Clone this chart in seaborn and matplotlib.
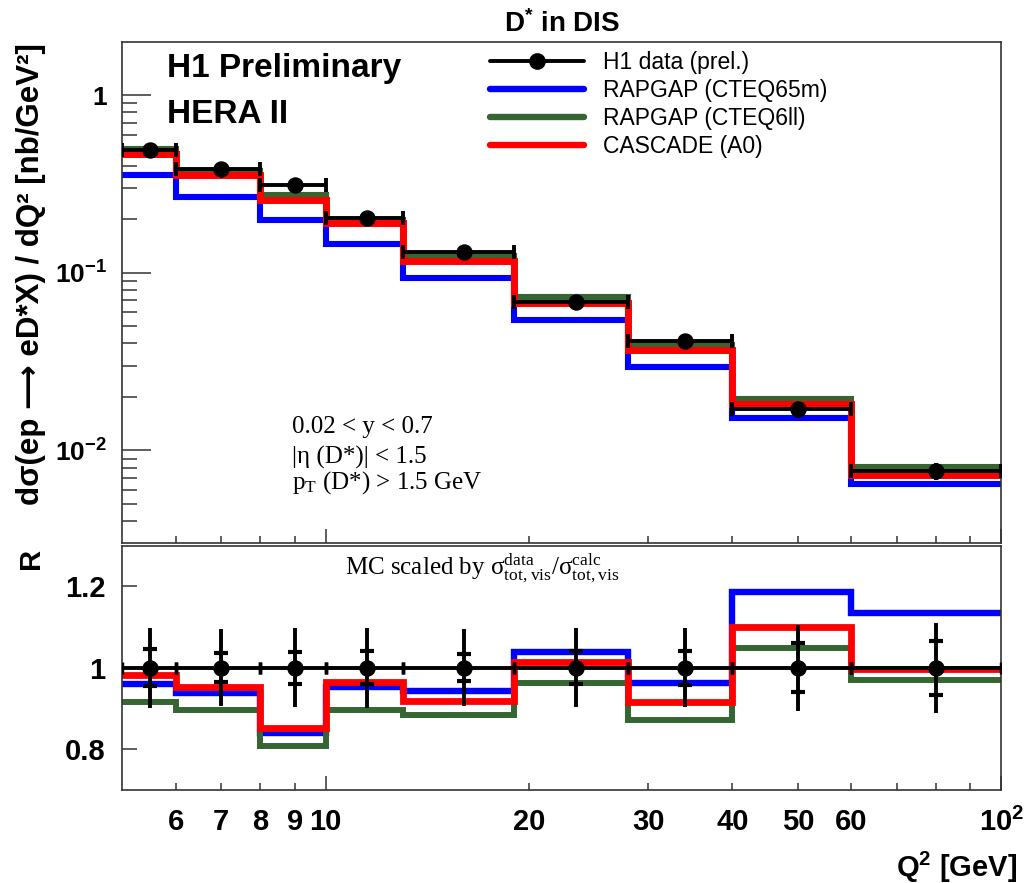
import numpy as np
import pandas as pd
import matplotlib
matplotlib.use("Agg")
import matplotlib.pyplot as plt
from matplotlib.lines import Line2D
from matplotlib.ticker import FixedLocator, FixedFormatter, NullFormatter
import seaborn as sns

# ---------------- data ----------------
q2_edges = [5, 6, 8, 10, 13, 19, 28, 40, 60, 100]
q2_centers = [5.5, 7.0, 9.0, 11.5, 16.0, 23.5, 34.0, 50.0, 80.0]

data_xsec = [0.490, 0.382, 0.312, 0.202, 0.131, 0.0687, 0.0413, 0.0170, 0.00766]
rapgap65m_xsec = [0.355, 0.268, 0.198, 0.146, 0.093, 0.0542, 0.0296, 0.0153, 0.00644]
rapgap6ll_xsec = [0.500, 0.376, 0.274, 0.199, 0.125, 0.0727, 0.0392, 0.0194, 0.00803]
cascade_xsec = [0.468, 0.355, 0.257, 0.190, 0.116, 0.0673, 0.0366, 0.0182, 0.00727]

data_ratio = [1.0, 1.0, 1.0, 1.0, 1.0, 1.0, 1.0, 1.0, 1.0]
ratio_err_tot = [0.098, 0.094, 0.097, 0.098, 0.094, 0.097, 0.097, 0.106, 0.110]
ratio_err_stat = [0.045, 0.035, 0.039, 0.041, 0.033, 0.040, 0.042, 0.060, 0.066]
rapgap65m_ratio = [0.961, 0.937, 0.840, 0.952, 0.942, 1.039, 0.963, 1.186, 1.134]
rapgap6ll_ratio = [0.915, 0.896, 0.807, 0.896, 0.884, 0.963, 0.871, 1.048, 0.971]
cascade_ratio = [0.982, 0.952, 0.852, 0.966, 0.919, 1.015, 0.916, 1.101, 0.996]

x_major = [10, 100]
x_major_labels = ["10", r"$10^{2}$"]
x_minor = [6, 7, 8, 9, 20, 30, 40, 50, 60, 70, 80, 90]
x_minor_labels = ["6", "7", "8", "9", "20", "30", "40", "50", "60", "", "", ""]
y_top_major = [0.01, 0.1, 1.0]
y_top_labels = [r"$10^{-2}$", r"$10^{-1}$", "1"]
y_low_major = [0.8, 1.0, 1.2]
y_low_labels = ["0.8", "1", "1.2"]

legend_labels = ["H1 data (prel.)", "RAPGAP (CTEQ65m)", "RAPGAP (CTEQ6ll)", "CASCADE (A0)"]

C_BLUE = "#0000ff"
C_GREEN = "#356632"
C_RED = "#ff0000"

# ---------------- style ----------------
sns.set_theme(style="white")
plt.rcParams["font.family"] = ["Liberation Sans", "DejaVu Sans"]
plt.rcParams["mathtext.fontset"] = "custom"
plt.rcParams["mathtext.default"] = "regular"
plt.rcParams["mathtext.rm"] = "Liberation Sans:bold"
plt.rcParams["mathtext.bf"] = "Liberation Sans:bold"
plt.rcParams["axes.linewidth"] = 1.2
plt.rcParams["axes.edgecolor"] = "#333333"
plt.rcParams["text.color"] = "black"
plt.rcParams["axes.labelcolor"] = "black"
plt.rcParams["xtick.color"] = "black"
plt.rcParams["ytick.color"] = "black"
plt.rcParams["xtick.labelcolor"] = "black"
plt.rcParams["ytick.labelcolor"] = "black"

W, H = 1027, 883
fig = plt.figure(figsize=(W / 100, H / 100), dpi=100)


def fx(x):
    return x / W


def fy(y):
    return 1 - y / H


ax_top = fig.add_axes([fx(122.3), fy(542.5), fx(1001.3) - fx(122.3), (542.5 - 42) / H])
ax_low = fig.add_axes([fx(122.3), fy(790), fx(1001.3) - fx(122.3), (790 - 545.5) / H])


def steps(ax, edges, vals, color, lw):
    df = pd.DataFrame({"q2": edges, "v": list(vals) + [vals[-1]]})
    sns.lineplot(data=df, x="q2", y="v", ax=ax, color=color, linewidth=lw,
                 drawstyle="steps-post", estimator=None, sort=False, legend=False,
                 solid_joinstyle="miter")


lo = np.array(q2_centers) - np.array(q2_edges[:-1])
hi = np.array(q2_edges[1:]) - np.array(q2_centers)

for ax in (ax_top, ax_low):
    ax.set_xscale("log")

# ---- top panel ----
ax_top.set_yscale("log")
steps(ax_top, q2_edges, rapgap65m_xsec, C_BLUE, 4.4)
steps(ax_top, q2_edges, rapgap6ll_xsec, C_GREEN, 4.4)
steps(ax_top, q2_edges, cascade_xsec, C_RED, 5.0)
dx = np.array(data_xsec)
ax_top.errorbar(q2_centers, data_xsec, xerr=[lo, hi], fmt="none", ecolor="black",
                elinewidth=2.8, capsize=4.8, capthick=2.8, zorder=5)
ax_top.errorbar(q2_centers, data_xsec, yerr=dx * np.array(ratio_err_tot), fmt="none",
                ecolor="black", elinewidth=2.8, capsize=0, zorder=5)
sns.scatterplot(x=q2_centers, y=data_xsec, ax=ax_top, color="black", s=140,
                edgecolor="black", linewidth=0, zorder=6, legend=False)
ax_top.set_xlim(5, 100)
ax_top.set_ylim(0.00303, 1.99)

# ---- lower panel ----
steps(ax_low, q2_edges, rapgap65m_ratio, C_BLUE, 4.6)
steps(ax_low, q2_edges, rapgap6ll_ratio, C_GREEN, 4.3)
steps(ax_low, q2_edges, cascade_ratio, C_RED, 4.9)
ax_low.errorbar(q2_centers, data_ratio, xerr=[lo, hi], fmt="none", ecolor="black",
                elinewidth=2.8, capsize=4.5, capthick=2.5, zorder=5)
ax_low.errorbar(q2_centers, data_ratio, yerr=ratio_err_tot, fmt="none", ecolor="black",
                elinewidth=2.8, capsize=0, zorder=5)
ax_low.errorbar(q2_centers, data_ratio, yerr=ratio_err_stat, fmt="none", ecolor="black",
                elinewidth=0, capsize=5.2, capthick=3.0, zorder=5)
sns.scatterplot(x=q2_centers, y=data_ratio, ax=ax_low, color="black", s=140,
                edgecolor="black", linewidth=0, zorder=6, legend=False)
ax_low.set_xlim(5, 100)
ax_low.set_ylim(0.70, 1.30)

# ---- axes / ticks ----
for ax in (ax_top, ax_low):
    ax.set_xlabel("")
    ax.set_ylabel("")
    for s in ax.spines.values():
        s.set_visible(True)
        s.set_color("#333333")
        s.set_linewidth(1.2)
    ax.xaxis.set_major_locator(FixedLocator(x_major))
    ax.xaxis.set_minor_locator(FixedLocator(x_minor))
    ax.tick_params(axis="x", which="major", direction="in", length=10, width=1.1,
                   color="#333333", bottom=True, top=False)
    ax.tick_params(axis="x", which="minor", direction="in", length=5, width=1.1,
                   color="#333333", bottom=True, top=False)

ax_top.xaxis.set_major_formatter(NullFormatter())
ax_top.xaxis.set_minor_formatter(NullFormatter())
ax_low.xaxis.set_major_formatter(FixedFormatter(x_major_labels))
ax_low.xaxis.set_minor_formatter(FixedFormatter(x_minor_labels))
ax_low.tick_params(axis="x", which="both", labelsize=21, pad=13, labelcolor="black")
for t in ax_low.get_xticklabels(which="both"):
    t.set_fontweight("bold")

ax_top.yaxis.set_major_locator(FixedLocator(y_top_major))
ax_top.yaxis.set_major_formatter(FixedFormatter(y_top_labels))
ax_top.yaxis.set_minor_locator(FixedLocator(
    [k * 10.0 ** e for e in (-3, -2, -1, 0) for k in range(2, 10)]))
ax_top.yaxis.set_minor_formatter(NullFormatter())
ax_top.tick_params(axis="y", which="major", direction="in", length=21, width=1.1,
                   color="#333333", labelsize=19, pad=11, left=True, right=False,
                   labelcolor="black")
ax_top.tick_params(axis="y", which="minor", direction="in", length=11, width=1.1,
                   color="#333333", left=True, right=False)
for t in ax_top.get_yticklabels():
    t.set_fontweight("bold")

ax_low.yaxis.set_major_locator(FixedLocator(y_low_major))
ax_low.yaxis.set_major_formatter(FixedFormatter(y_low_labels))
ax_low.yaxis.set_minor_locator(FixedLocator([]))
ax_low.tick_params(axis="y", which="major", direction="in", length=11, width=1.1,
                   color="#333333", labelsize=21, pad=12, left=True, right=False,
                   labelcolor="black")
for t in ax_low.get_yticklabels():
    t.set_fontweight("bold")

# ---- texts ----
ax_top.set_title(r"D$^{*}$ in DIS", fontsize=20, fontweight="bold", pad=7, color="black")
fig.text(fx(166.7), fy(77.3), "H1 Preliminary", fontsize=24, fontweight="bold",
         ha="left", va="baseline")
fig.text(fx(166.7), fy(123.3), "HERA II", fontsize=24, fontweight="bold",
         ha="left", va="baseline")

fig.text(fx(31), fy(43), "dσ(ep ⟶ eD*X) / dQ² [nb/GeV²]", rotation=90,
         fontsize=22.5, fontweight="bold", ha="center", va="top",
         family=["Liberation Sans", "DejaVu Sans"])
fig.text(fx(31), fy(548), "R", rotation=90, fontsize=21, fontweight="bold",
         ha="center", va="top")
fig.text(fx(1017), fy(877), r"Q$^{2}$ [GeV]", fontsize=21, fontweight="bold",
         ha="right", va="baseline")

serif = ["Liberation Serif", "DejaVu Serif"]
fig.text(fx(291.7), fy(433.3), "0.02 < y < 0.7", fontsize=18, family=serif,
         ha="left", va="baseline")
fig.text(fx(291.7), fy(463.3), "|η (D*)| < 1.5", fontsize=18, family=serif,
         ha="left", va="baseline")
fig.text(fx(291.7), fy(488.3), r"p$_{T}$ (D*) > 1.5 GeV", fontsize=18, family=serif,
         ha="left", va="baseline")
fig.text(fx(345), fy(575), r"MC scaled by $σ^{data}_{tot,vis}/σ^{calc}_{tot,vis}$",
         fontsize=18, family=serif, ha="left", va="baseline")

# ---- legend ----
handles = [
    Line2D([], [], color="black", lw=2.8, marker="o", markersize=11),
    Line2D([], [], color=C_BLUE, lw=4.6),
    Line2D([], [], color=C_GREEN, lw=4.6),
    Line2D([], [], color=C_RED, lw=4.6),
]
leg = ax_top.legend(handles, legend_labels, loc="upper left",
                    bbox_to_anchor=(fx(490), fy(51)), bbox_transform=fig.transFigure,
                    frameon=False, fontsize=16.5, handlelength=4.1, handletextpad=0.85,
                    labelspacing=0.22, borderpad=0, borderaxespad=0, numpoints=1)

fig.savefig("out.png", dpi=100)
